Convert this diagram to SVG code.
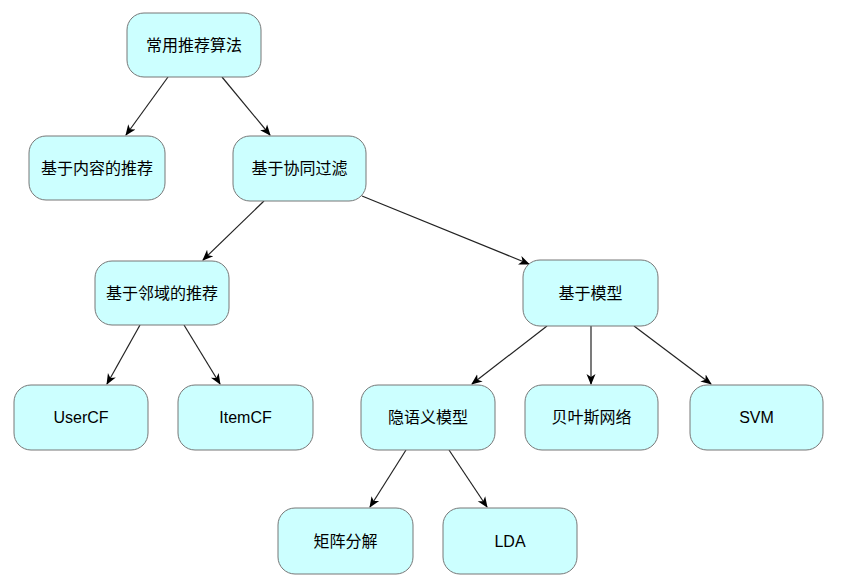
<svg xmlns="http://www.w3.org/2000/svg" width="841" height="588" viewBox="0 0 841 588">
<defs>
<marker id="arr" markerWidth="12" markerHeight="12" refX="10" refY="6" orient="auto" markerUnits="userSpaceOnUse"><path d="M0,1.5 L11,6 L0,10.5 L3,6 Z" fill="#000"/></marker>
<style>
.n rect{fill:#ccffff;stroke:#777;stroke-width:1}
.n text{font-family:"Liberation Sans","Noto Sans CJK SC",sans-serif;font-size:16px;fill:#000;text-anchor:middle;dominant-baseline:central}
.c line{stroke:#222;stroke-width:1.2;marker-end:url(#arr)}
</style>
</defs>
<rect width="841" height="588" fill="#fff"/>
<g class="c" id="connectors">
<line x1="168" y1="77" x2="126" y2="135"/>
<line x1="222" y1="77" x2="270" y2="135"/>
<line x1="264" y1="201" x2="203" y2="260"/>
<line x1="362" y1="196" x2="529" y2="264"/>
<line x1="140" y1="325" x2="107" y2="384"/>
<line x1="184" y1="325" x2="220" y2="384"/>
<line x1="547" y1="326" x2="472" y2="384"/>
<line x1="591" y1="326" x2="591" y2="384"/>
<line x1="634" y1="326" x2="711" y2="384"/>
<line x1="406" y1="450" x2="370" y2="507"/>
<line x1="449" y1="450" x2="487" y2="507"/>
</g>
<g class="n" id="n-root"><rect x="127" y="13" width="134" height="64" rx="17"/><text x="194" y="45">常用推荐算法</text></g>
<g class="n" id="n-content"><rect x="29" y="136" width="136" height="64" rx="17"/><text x="97" y="168">基于内容的推荐</text></g>
<g class="n" id="n-cf"><rect x="233" y="136" width="133" height="65" rx="17"/><text x="299.5" y="168.5">基于协同过滤</text></g>
<g class="n" id="n-nb"><rect x="95" y="261" width="134" height="64" rx="17"/><text x="162" y="293">基于邻域的推荐</text></g>
<g class="n" id="n-model"><rect x="523" y="260" width="135" height="66" rx="17"/><text x="590.5" y="293">基于模型</text></g>
<g class="n" id="n-user"><rect x="14" y="385" width="134" height="65" rx="17"/><text x="81" y="417.5">UserCF</text></g>
<g class="n" id="n-item"><rect x="178" y="385" width="135" height="65" rx="17"/><text x="245.5" y="417.5">ItemCF</text></g>
<g class="n" id="n-latent"><rect x="361" y="385" width="134" height="65" rx="17"/><text x="428" y="417.5">隐语义模型</text></g>
<g class="n" id="n-bayes"><rect x="525" y="385" width="133" height="65" rx="17"/><text x="591.5" y="417.5">贝叶斯网络</text></g>
<g class="n" id="n-svm"><rect x="690" y="385" width="133" height="65" rx="17"/><text x="756.5" y="417.5">SVM</text></g>
<g class="n" id="n-mf"><rect x="278" y="508" width="135" height="66" rx="17"/><text x="345.5" y="541">矩阵分解</text></g>
<g class="n" id="n-lda"><rect x="443" y="508" width="134" height="66" rx="17"/><text x="510" y="541">LDA</text></g>
</svg>
